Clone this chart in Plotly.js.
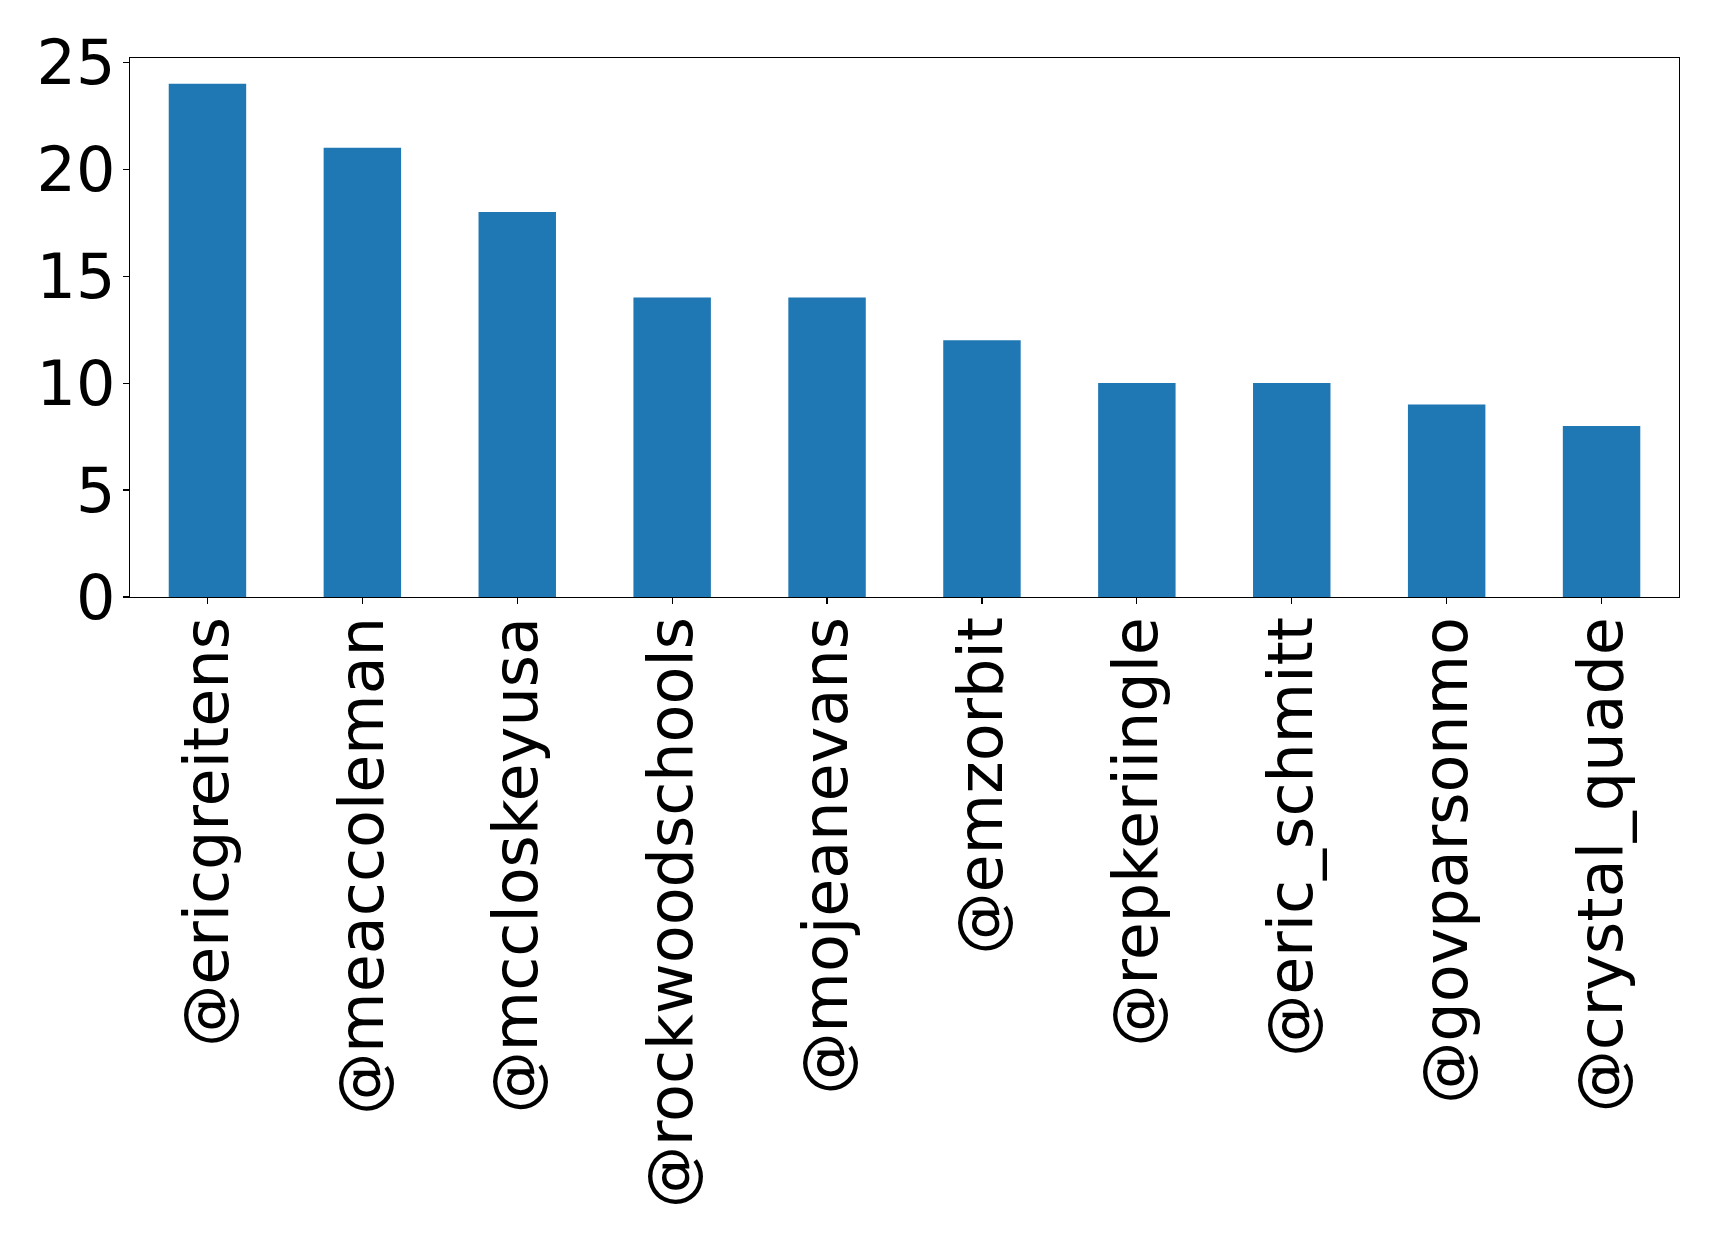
<!DOCTYPE html>
<html>
<head>
<meta charset="utf-8">
<script src="https://cdn.plot.ly/plotly-3.0.1.min.js"></script>
<style>html,body{margin:0;padding:0;background:#fff;}#chart{width:1719px;height:1243px;}</style>
</head>
<body>
<div id="chart"></div>
<script>
const accounts = ["@ericgreitens","@meaccoleman","@mccloskeyusa","@rockwoodschools","@mojeanevans","@emzorbit","@repkeriingle","@eric_schmitt","@govparsonmo","@crystal_quade"];
const counts = [24, 21, 18, 14, 14, 12, 10, 10, 9, 8];
const yTicks = [0, 5, 10, 15, 20, 25];

const data = [{
  type: "bar",
  x: accounts,
  y: counts,
  width: 0.5,
  marker: {color: "#1f77b4", line: {width: 0}},
  hoverinfo: "x+y"
}];

const layout = {
  width: 1719,
  height: 1243,
  paper_bgcolor: "#ffffff",
  plot_bgcolor: "#ffffff",
  margin: {l: 130, r: 40, t: 58, b: 646, pad: 0},
  showlegend: false,
  font: {family: "DejaVu Sans", color: "#000000", size: 62},
  xaxis: {
    type: "category",
    range: [-0.5, 9.5],
    tickangle: -90,
    ticks: "outside",
    ticklen: 6,
    tickwidth: 1.2,
    tickcolor: "#000",
    showline: true,
    linecolor: "#000",
    linewidth: 1.2,
    mirror: true,
    showgrid: false,
    zeroline: false,
    ticklabelstandoff: -12,
    tickfont: {family: "DejaVu Sans", size: 62, color: "#000"},
    automargin: false
  },
  yaxis: {
    range: [0, 25.2],
    tickvals: yTicks,
    ticktext: yTicks.map(String),
    ticks: "outside",
    ticklen: 6,
    tickwidth: 1.2,
    tickcolor: "#000",
    showline: true,
    linecolor: "#000",
    linewidth: 1.2,
    mirror: true,
    showgrid: false,
    zeroline: false,
    ticklabelstandoff: -5,
    tickfont: {family: "DejaVu Sans", size: 62, color: "#000"},
    automargin: false
  }
};

Plotly.newPlot("chart", data, layout, {staticPlot: true, displayModeBar: false});
</script>
</body>
</html>
